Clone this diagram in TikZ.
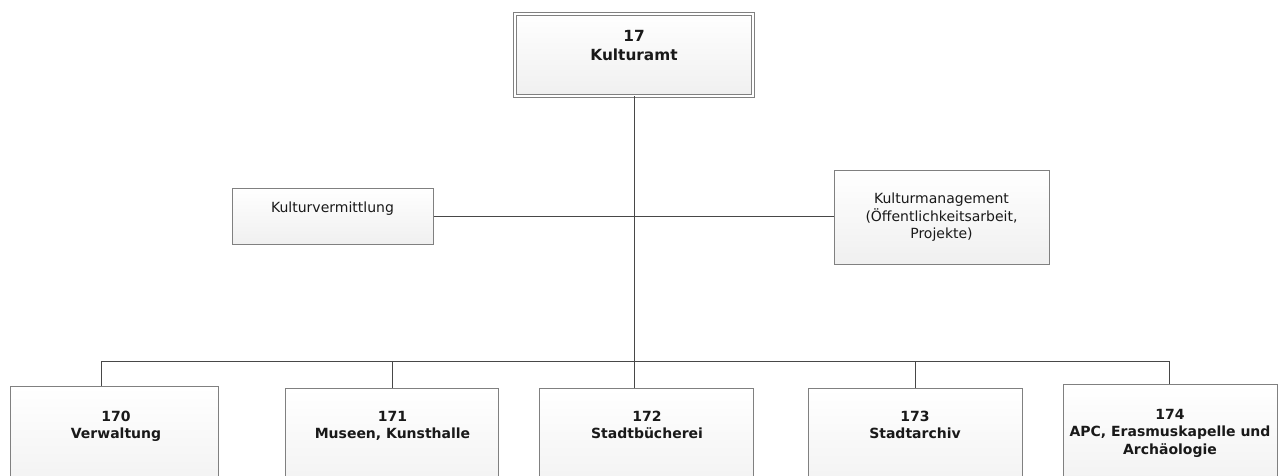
\documentclass[tikz,border=0pt]{standalone}
\usepackage{fontspec}
\setmainfont{DejaVu Sans}
\begin{document}
\begin{tikzpicture}[x=0.75pt,y=-0.75pt,
  box/.style={draw=gray, line width=0.75pt, top color=white, bottom color=gray!12, inner sep=0pt},
  txt/.style={anchor=north, align=center, inner sep=0pt, text=black!90},
  norm/.style={font=\fontsize{10.5}{13}\selectfont},
  bld/.style={font=\fontsize{10.5}{13}\selectfont\bfseries},
  conn/.style={draw=black!72, line width=0.65pt}]
\useasboundingbox (0,0) rectangle (1284,475);
\clip (0,0) rectangle (1284,475);
\fill[white] (0,0) rectangle (1284,475);

% top box
\node[box, double=white, double distance=1.5pt, minimum width=178.5pt, minimum height=61.5pt] (top) at (634,54.5) {};
\node[txt, font=\fontsize{11.5}{14}\selectfont\bfseries] (toptxt) at (634,30) {17\\Kulturamt};

% side boxes
\node[box, minimum width=150.75pt, minimum height=42pt] (kv) at (332.5,216) {};
\node[txt, norm] (kvtxt) at (332.5,202) {Kulturvermittlung};
\node[box, minimum width=161.25pt, minimum height=70.5pt] (km) at (941.5,217) {};
\node[txt, norm] (kmtxt) at (941.5,193) {Kulturmanagement\\(Öffentlichkeitsarbeit,\\Projekte)};

% bottom boxes
\node[box, anchor=north, minimum width=156pt, minimum height=90pt] (b170) at (114,386) {};
\node[box, anchor=north, minimum width=160pt, minimum height=90pt] (b171) at (392,388) {};
\node[box, anchor=north, minimum width=161pt, minimum height=90pt] (b172) at (646.5,388) {};
\node[box, anchor=north, minimum width=160.5pt, minimum height=90pt] (b173) at (915,388) {};
\node[box, anchor=north, minimum width=160.5pt, minimum height=90pt] (b174) at (1170,384) {};

\node[txt, bld] (t170) at (116,411) {170\\Verwaltung};
\node[txt, bld] (t171) at (392.5,411) {171\\Museen, Kunsthalle};
\node[txt, bld] (t172) at (647,411) {172\\Stadtbücherei};
\node[txt, bld] (t173) at (915,411) {173\\Stadtarchiv};
\node[txt, bld] (t174) at (1170,409) {174\\APC, Erasmuskapelle und\\Archäologie};

% connectors
\coordinate (busL) at (101,361);
\coordinate (busR) at (1169,361);
\coordinate (c171) at (392,361);
\coordinate (c173) at (915,361);
\path[conn] (top.south) -- (top.south |- b172.north);
\path[conn] (kv.east) -- (kv.east -| km.west);
\path[conn] (busL) -- (busR);
\path[conn] (busL) -- (busL |- b170.north);
\path[conn] (c171) -- (c171 |- b171.north);
\path[conn] (c173) -- (c173 |- b173.north);
\path[conn] (busR) -- (busR |- b174.north);
\end{tikzpicture}
\end{document}
